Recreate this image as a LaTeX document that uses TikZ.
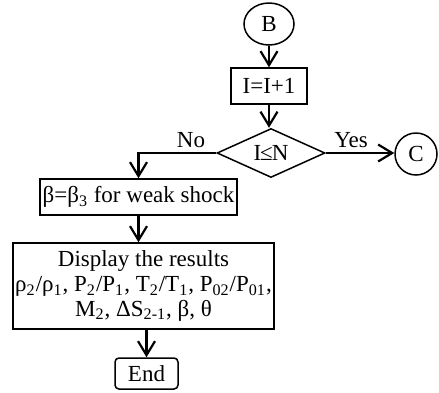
\documentclass[tikz,border=0pt]{standalone}
\usepackage{fontspec}
\setmainfont{Liberation Serif}
\usetikzlibrary{shapes.geometric,arrows.meta}
\begin{document}
\begin{tikzpicture}[x=0.5pt,y=-0.5pt,
  font=\fontsize{11.5}{12.3}\selectfont,
  box/.style={draw, line width=0.75pt, inner sep=0pt, align=center},
  arr/.style={line width=1.1pt, -{Straight Barb[length=7pt,width=8.5pt,line width=1.1pt]}},
  lbl/.style={inner sep=0pt}]
\useasboundingbox (0,0) rectangle (439,392);
\node[box, ellipse, minimum width=25pt, minimum height=21pt] (b) at (269,24) {B};
\node[box, rectangle, minimum width=38pt, minimum height=18pt] (i) at (269,86) {I=I+1};
\node[box, diamond, aspect=2, minimum width=54pt, minimum height=24.5pt] (d) at (271,153) {I\kern-0.5pt≤\kern-0.5pt N};
\node[box, circle, minimum size=21pt] (c) at (416,154) {C};
\node[box, rectangle, minimum width=98.5pt, minimum height=18pt] (beta) at (138.5,197) {β=β\textsubscript{3} for weak shock};
\node[box, rectangle, minimum width=130.5pt, minimum height=43pt] (disp) at (143.5,286)
  {Display the results\\
   ρ\textsubscript{2}/ρ\textsubscript{1}, P\textsubscript{2}/P\textsubscript{1}, T\textsubscript{2}/T\textsubscript{1}, P\textsubscript{02}/P\textsubscript{01},\\
   M\textsubscript{2}, ΔS\textsubscript{2-1}, β, θ};
\node[box, rectangle, rounded corners=2pt, minimum width=31.5pt, minimum height=15.5pt] (e) at (146.5,373.5) {End};
\node[lbl] (no) at (191,140) {No};
\node[lbl] (yes) at (351,140) {Yes};
\draw[arr] (b) -- (i);
\draw[arr] (i.south) -- (i.south |- d.north);
\draw[arr] (d.east) -- (c.west |- d.east);
\draw[arr] (d.west) -| (beta.north);
\draw[arr] (beta.south) -- (beta.south |- disp.north);
\draw[arr] (e.north |- disp.south) -- (e.north);
\end{tikzpicture}
\end{document}
